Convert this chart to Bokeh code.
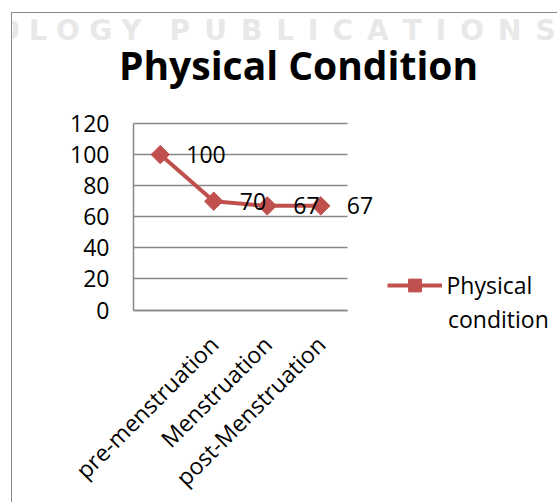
from bokeh.plotting import figure
from bokeh.models import (Range1d, FixedTicker, Label, LabelSet, ColumnDataSource,
                          Legend, LegendItem)
from bokeh.core.properties import value
from bokeh.embed import file_html
from bokeh.resources import INLINE
import math

title_text = "Physical Condition"
series_name = "Physical condition"
tick_labels = ["", "pre-menstruation", "Menstruation", "post-Menstruation"]
values = [100, 70, 67, 67]
y_ticks = [0, 20, 40, 60, 80, 100, 120]
watermark_words = ["OLOGY", "PUBLICATIONS"]

RED = "#C0504D"
GRID = "#878787"
FONT = "Open Sans"
FS = "23px"

xs = list(range(len(values)))
src = ColumnDataSource(dict(x=xs, y=values, lab=[str(v) for v in values]))

# layout geometry (pixels)
W, H = 546, 490
AXIS_X = 121             # pixel position of the value axis inside the canvas
AXIS_TOP = 110           # pixel position of the top gridline inside the canvas
CAT_PX = 53.5            # width of one category slot
PLOT_PX = 186.5          # height of the 0..120 value band
x_start = -0.5 - AXIS_X / CAT_PX
x_end = -0.5 + (W - AXIS_X) / CAT_PX
px_per_unit = PLOT_PX / y_ticks[-1]
y_start = -(H - AXIS_TOP - PLOT_PX) / px_per_unit
y_end = y_ticks[-1] + AXIS_TOP / px_per_unit

p = figure(width=W, height=H, output_backend="svg", toolbar_location=None,
           x_range=Range1d(x_start, x_end), y_range=Range1d(y_start, y_end),
           min_border_left=0, min_border_right=0, min_border_top=0,
           min_border_bottom=0)
p.margin = (12, 0, 0, 11)
p.styles = {"border-left": "1.5px solid #8a8a8a", "border-top": "1.5px solid #8a8a8a"}
p.outline_line_color = None
p.background_fill_color = None
p.border_fill_color = "white"

# y axis, pinned at the first category edge
p.yaxis.fixed_location = -0.5
p.yaxis.ticker = FixedTicker(ticks=y_ticks)
p.yaxis.bounds = (y_ticks[0], y_ticks[-1])
p.yaxis.major_tick_out = 0
p.yaxis.major_tick_in = 0
p.yaxis.minor_tick_out = 0
p.yaxis.minor_tick_in = 0
p.yaxis.axis_line_color = GRID
p.yaxis.axis_line_width = 1.5
p.yaxis.major_label_standoff = 24
p.yaxis.major_label_text_font = FONT
p.yaxis.major_label_text_font_size = FS
p.yaxis.major_label_text_color = "black"

# x axis, pinned at y = 0
p.xaxis.fixed_location = 0
p.xaxis.ticker = FixedTicker(ticks=xs)
p.xaxis.bounds = (-0.5, len(values) - 0.5)
p.xaxis.major_label_overrides = {i: t for i, t in zip(xs, tick_labels)}
p.xaxis.major_tick_out = 0
p.xaxis.major_tick_in = 0
p.xaxis.minor_tick_out = 0
p.xaxis.minor_tick_in = 0
p.xaxis.axis_line_color = GRID
p.xaxis.axis_line_width = 1.5
p.xaxis.major_label_orientation = math.pi / 4
p.xaxis.major_label_standoff = 30
p.xaxis.major_label_text_font = FONT
p.xaxis.major_label_text_font_size = FS
p.xaxis.major_label_text_color = "black"

p.xgrid.grid_line_color = None
p.ygrid.ticker = FixedTicker(ticks=y_ticks)
p.ygrid.cross_bounds = (-0.5, len(values) - 0.5)
p.ygrid.grid_line_color = GRID
p.ygrid.grid_line_width = 1.5

# faint watermark (drawn first, behind everything)
wm1 = "\u2004".join(watermark_words[0])
wm2 = "\u2002".join(watermark_words[1])
p.add_layout(Label(x=-17.5, y=15.5, x_units="canvas", y_units="canvas",
                   text=wm1 + "\u2002\u2002" + wm2, text_font="DejaVu Sans",
                   text_font_style="bold", text_font_size="28px",
                   text_color="#e8e8e8", text_baseline="alphabetic",
                   level="underlay"))

# series
ln = p.line("x", "y", source=src, line_color=RED, line_width=4)
mk = p.scatter("x", "y", source=src, marker="square", angle=math.pi / 4, size=13,
               fill_color=RED, line_color=RED)

labels = LabelSet(x="x", y="y", text="lab", source=src, x_offset=26, y_offset=0,
                  text_baseline="middle", text_align="left", text_font=value(FONT),
                  text_font_size=FS, text_color="black")
p.add_layout(labels)

# legend
legend = Legend(items=[LegendItem(label="Physical", renderers=[ln, mk], index=0)],
                location=(374.5, 202.5), glyph_width=55, glyph_height=32,
                label_text_font=FONT, label_text_font_size=FS,
                label_text_color="black",
                label_standoff=5, padding=0, margin=0, spacing=0,
                border_line_color=None, background_fill_alpha=0)
p.add_layout(legend, "center")

p.add_layout(Label(x=434.5, y=304.5, x_units="canvas", y_units="canvas",
                   text="condition", text_font=FONT, text_font_size=FS,
                   text_color="black", text_baseline="alphabetic"))

# title
p.add_layout(Label(x=105.5, y=50, x_units="canvas", y_units="canvas",
                   text=title_text, text_font=FONT, text_font_style="bold",
                   text_font_size="39px", text_color="black",
                   text_baseline="alphabetic"))

open("out.html", "w").write(file_html(p, INLINE))
